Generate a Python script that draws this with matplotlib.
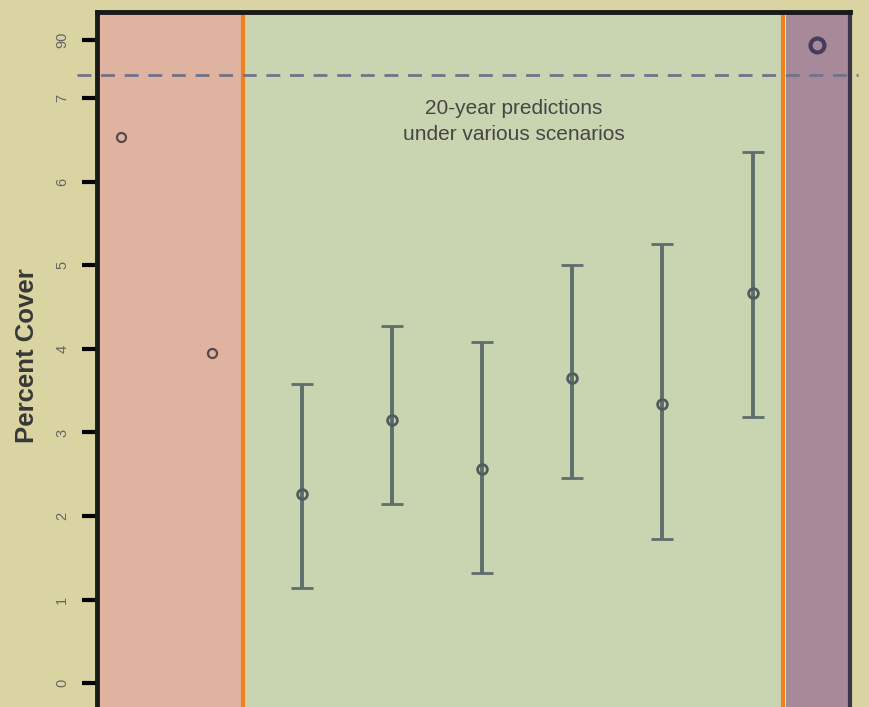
import matplotlib.pyplot as plt
import numpy as np

plt.rcParams['font.family'] = ['Liberation Sans', 'DejaVu Sans']

# observed points (left panel) and reference point (right panel)
obs_x = [1, 2]
obs_y = [6.53, 3.95]
ref_x = [8.71]
ref_y = [89]

# 20-year predictions under scenarios
pred_x = [3, 4, 5, 6, 7, 8]
pred_mid = [2.26, 3.15, 2.56, 3.65, 3.34, 4.67]
pred_lo = [1.14, 2.15, 1.32, 2.45, 1.72, 3.18]
pred_hi = [3.58, 4.27, 4.08, 5.00, 5.25, 6.35]

ytick_vals = [0, 1, 2, 3, 4, 5, 6, 7, 90]
ytick_labels = ['0', '1', '2', '3', '4', '5', '6', '7', '90']
break_at = 7.28


# broken y axis: values above the break are squeezed near the top
def ymap(v):
    v = np.asarray(v, dtype=float)
    return np.where(v > 10, 7.7 + (v - 90) * 0.07, v)


fig = plt.figure(figsize=(8.69, 7.07), dpi=100)
fig.patch.set_facecolor('#d9d4a1')
ax = fig.add_axes([97 / 869, -13 / 707, 753 / 869, 708 / 707])
ax.set_xlim(0.73, 9.08)
ax.set_ylim(-0.44, 8.03)

# background panels
ax.axvspan(0.73, 2.35, color='#e0b3a0', zorder=0)
ax.axvspan(2.35, 8.34, color='#c9d5b0', zorder=0)
ax.axvspan(8.37, 9.08, color='#a68a99', zorder=0)
for xv in [2.35, 8.34]:
    ax.axvline(xv, color='#f0821e', lw=3, zorder=2)

ax.plot([-0.027, 1.01], [break_at, break_at], transform=ax.get_yaxis_transform(),
        ls=(0, (5, 3.5)), color='#72738a', lw=2, clip_on=False, zorder=3)

ax.errorbar(pred_x, pred_mid,
            yerr=[np.subtract(pred_mid, pred_lo), np.subtract(pred_hi, pred_mid)],
            fmt='o', color='#5f6e6c', ecolor='#5f6e6c', elinewidth=2.8, capsize=8,
            capthick=2.8, mfc='none', mec='#4f5c5c', ms=7, mew=2, zorder=4)
ax.plot(obs_x, obs_y, 'o', mfc='none', mec='#5a4848', ms=6.5, mew=1.6, zorder=4)
ax.plot(ref_x, ymap(ref_y), 'o', mfc='none', mec='#4a3a5c', ms=10, mew=3, zorder=4)

ax.text(5.35, 6.72, '20-year predictions\nunder various scenarios', ha='center',
        va='center', fontsize=15, color='#454545', linespacing=1.45)

ax.set_xticks([])
ax.set_yticks(ymap(ytick_vals))
ax.set_yticklabels(ytick_labels, rotation=90, va='center', color='#666666', fontsize=10.5)
ax.tick_params(axis='y', direction='out', length=11, width=3, color='black', pad=9)
ax.set_ylabel('Percent Cover', fontsize=18.5, fontweight='bold', color='#383838')
ax.yaxis.set_label_coords(-0.077, 0.515)

for side in ['left', 'top']:
    ax.spines[side].set_linewidth(3.5)
    ax.spines[side].set_color('#1a1a1a')
ax.spines['right'].set_linewidth(3)
ax.spines['right'].set_color('#3c3448')
ax.spines['bottom'].set_visible(False)

fig.savefig('out.png', dpi=100, facecolor=fig.get_facecolor())
